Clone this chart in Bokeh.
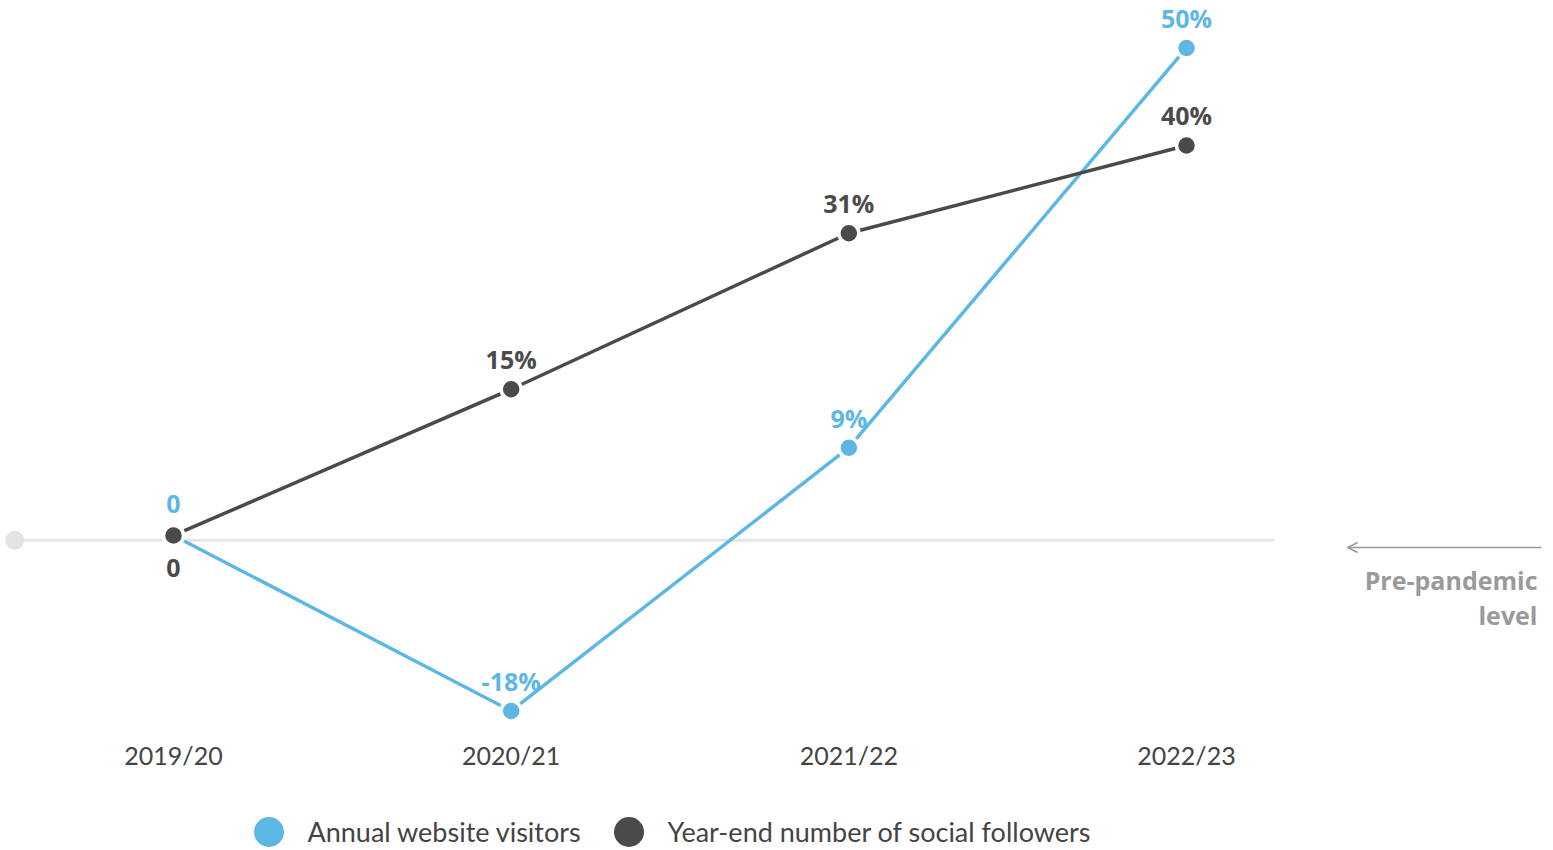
from bokeh.plotting import figure
from bokeh.models import Range1d, Legend, LegendItem, Label, Arrow, OpenHead, ColumnDataSource
from bokeh.core.properties import value
from bokeh.embed import file_html
from bokeh.resources import INLINE

# ---- data ----
years = ["2019/20", "2020/21", "2021/22", "2022/23"]
visitors = [0, -18, 9, 50]
followers = [0, 15, 31, 40]
visitor_labels = ["0", "-18%", "9%", "50%"]
follower_labels = ["0", "15%", "31%", "40%"]
series_names = ["Annual website visitors", "Year-end number of social followers"]
baseline_label = ["Pre-pandemic", "level"]

BLUE = "#5DB7E5"
DARK = "#4A4A4A"
GREY_LINE = "#E5E5E5"
GREY_TXT = "#9A9A9A"

W, H = 1553, 850
xs = list(range(len(years)))

p = figure(width=W, height=H, output_backend="svg", toolbar_location=None,
           x_axis_type=None, y_axis_type=None, min_border=0,
           x_range=Range1d(-0.5123, 4.0868), y_range=Range1d(-32.31, 54.87))
p.outline_line_color = None
p.background_fill_color = "white"
p.border_fill_color = "white"

# baseline (pre-pandemic level)
p.segment(x0=[-0.47], y0=[-0.5], x1=[3.258], y1=[-0.5], line_color=GREY_LINE, line_width=3)
p.scatter(x=[-0.47], y=[-0.5], size=19, fill_color="#E3E3E3", line_color=None)

# lines
p.line(xs, visitors, line_color=BLUE, line_width=3.5)
p.line(xs, followers, line_color=DARK, line_width=3.5)
p.scatter(xs, visitors, size=20, fill_color=BLUE, line_color="white", line_width=3.5)
p.scatter(xs, followers, size=20, fill_color=DARK, line_color="white", line_width=3.5)

# data labels
vsrc = ColumnDataSource(dict(x=xs, y=visitors, t=visitor_labels, off=[-31, -30, -30, -30]))
fsrc = ColumnDataSource(dict(x=xs, y=followers, t=follower_labels, off=[33, -30, -30, -30]))
lbl_font = value("Open Sans")
p.text(x="x", y="y", text="t", y_offset="off", source=vsrc, text_color=BLUE,
       text_font=lbl_font, text_font_style="bold", text_font_size="25px",
       text_align="center", text_baseline="middle")
p.text(x="x", y="y", text="t", y_offset="off", source=fsrc, text_color=DARK,
       text_font=lbl_font, text_font_style="bold", text_font_size="25px",
       text_align="center", text_baseline="middle")

# category labels
p.text(x=xs, y=[0] * len(xs), text=years, y_offset=220, text_color="#444444",
       text_font=value("Lato"), text_font_size="25px", text_align="center",
       text_baseline="middle")

# arrow + note
p.add_layout(Arrow(x_start=4.051, y_start=-1.23, x_end=3.477, y_end=-1.23,
                   line_color=GREY_TXT, line_width=1.5,
                   end=OpenHead(size=10, line_color=GREY_TXT, line_width=1.5)))
for i, t in enumerate(baseline_label):
    p.add_layout(Label(x=1537, y=H - 579 - 35 * i, x_units="screen", y_units="screen",
                       text=t, text_align="right", text_baseline="middle",
                       text_color=GREY_TXT, text_font="Open Sans",
                       text_font_style="bold", text_font_size="25px"))

# legend (swatch renderers hold a point outside the visible range)
leg_vis = p.scatter([-10], [-100], size=30, fill_color=BLUE, line_color=None)
leg_fol = p.scatter([-10], [-100], size=30, fill_color=DARK, line_color=None)
legend = Legend(items=[LegendItem(label=series_names[0], renderers=[leg_vis]),
                       LegendItem(label=series_names[1], renderers=[leg_fol])],
                orientation="horizontal", location=(230.5, -19),
                glyph_width=75, glyph_height=75, label_standoff=2, spacing=0,
                label_width=283, padding=0, margin=0, border_line_color=None,
                background_fill_alpha=0,
                label_text_font="Lato", label_text_font_size="27px",
                label_text_color="#444444")
p.add_layout(legend, "center")

open("out.html", "w").write(file_html(p, INLINE))
